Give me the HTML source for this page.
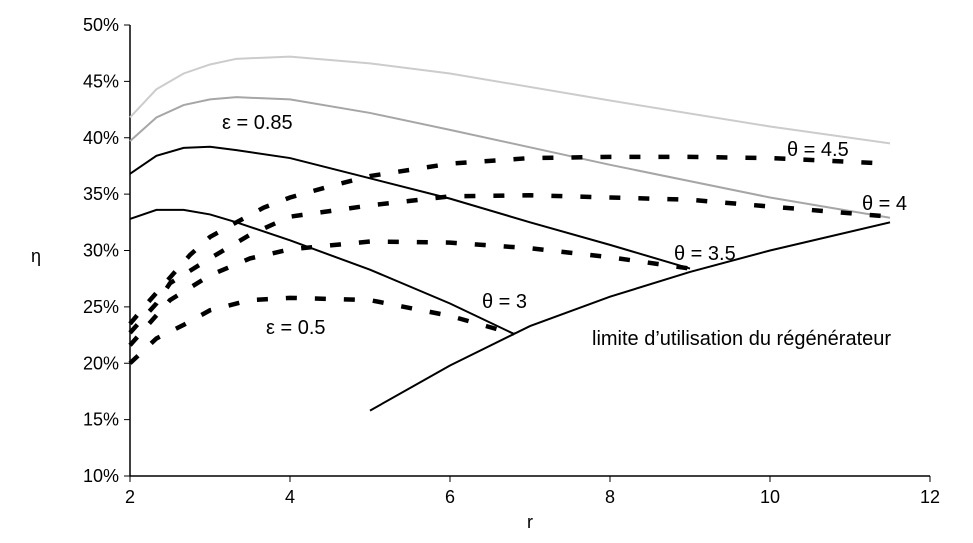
<!DOCTYPE html>
<html><head><meta charset="utf-8"><style>
body{margin:0;background:#fff;}
svg text{font-family:"Liberation Sans",sans-serif;font-size:20px;fill:#000;}
svg text.tk{font-size:18px;}
</style></head><body>
<svg id="c" width="973" height="538"></svg>
<script>
const xTicks=[2,4,6,8,10,12];
const yTicks=[10,15,20,25,30,35,40,45,50];
const rSolid=[2,2.33,2.67,3,3.33,4,5,6,8,10,11.5];
const s45=[41.8,44.3,45.7,46.5,47.0,47.2,46.6,45.7,43.3,41.0,39.5];
const s40=[39.7,41.8,42.9,43.4,43.6,43.4,42.2,40.7,37.6,34.7,32.9];
const r35=[2,2.33,2.67,3,3.33,4,5,6,7,8,9];
const s35=[36.8,38.4,39.1,39.2,38.9,38.2,36.4,34.6,32.5,30.5,28.4];
const r30=[2,2.33,2.67,3,3.33,4,5,6,6.8];
const s30=[32.8,33.6,33.6,33.2,32.5,30.9,28.3,25.3,22.6];
const rLim=[5,6,7,8,9,10,11.5];
const sLim=[15.8,19.8,23.3,25.9,28.1,30.0,32.5];
const rD45=[2,2.25,2.5,2.75,3,3.33,3.67,4,4.5,5,6,7,8,9,10,11.5];
const d45=[23.5,25.6,27.6,29.6,31.2,32.5,33.8,34.7,35.7,36.6,37.7,38.2,38.3,38.3,38.2,37.7];
const rD40=[2,2.33,2.5,3,3.5,4,5,6,7,8,9,10,11.5];
const d40=[22.7,25.3,27.1,29.3,31.4,33.0,34.0,34.8,34.9,34.7,34.5,33.9,33.0];
const rD35=[2,2.5,3,3.5,4,5,6,7,8,9];
const d35=[21.6,25.6,27.8,29.3,30.1,30.8,30.7,30.2,29.4,28.4];
const rD30=[2,2.33,2.67,3,3.5,4,5,6,6.8];
const d30=[20.0,22.2,23.4,24.7,25.6,25.8,25.6,24.2,22.6];

const NS="http://www.w3.org/2000/svg";
const svg=document.getElementById('c');
const X=v=>130+(v-2)*80;
const Y=v=>476-(v-10)*11.275;
function mk(t,a){const e=document.createElementNS(NS,t);for(const k in a)e.setAttribute(k,a[k]);svg.appendChild(e);return e;}
function line(xs,ys,name,stroke,w,dash){
  const p=mk('polyline',{points:xs.map((x,i)=>X(x)+','+Y(ys[i])).join(' '),fill:'none',stroke:stroke,'stroke-width':w});
  if(dash)p.setAttribute('stroke-dasharray',dash);
  
  
}
function txt(x,y,s,name,anchor,cls){const t=mk('text',{x:x,y:y,'text-anchor':anchor||'start'});t.textContent=s;
  if(cls)t.setAttribute('class',cls);
  
  return t;}
const ax=mk('path',{d:`M130 ${Y(50)} V476 H930`,stroke:'#000','stroke-width':1.5,fill:'none'});


yTicks.forEach(v=>{const t=mk('line',{x1:124,x2:130,y1:Y(v),y2:Y(v),stroke:'#000'});
  
  
  txt(119,Y(v)+6,v+'%','y-tick-label','end','tk');});
xTicks.forEach(v=>{const t=mk('line',{x1:X(v),x2:X(v),y1:476,y2:482,stroke:'#000'});
  
  
  txt(X(v),503,v,'x-tick-label','middle','tk');});
txt(530,528,'r','x-axis-title','middle','tk');
txt(36,262,'η','y-axis-title','middle','tk');
line(rSolid,s45,'line-eps085-theta45','#cccccc',2);
line(rSolid,s40,'line-eps085-theta4','#a6a6a6',2);
line(r35,s35,'line-eps085-theta35','#000',2);
line(r30,s30,'line-eps085-theta3','#000',2);
line(rLim,sLim,'line-regenerator-limit','#000',2);
line(rD45,d45,'line-eps05-theta45','#000',4.5,'11 18');
line(rD40,d40,'line-eps05-theta4','#000',4.5,'11 18');
line(rD35,d35,'line-eps05-theta35','#000',4.5,'11 18');
line(rD30,d30,'line-eps05-theta3','#000',4.5,'11 18');
txt(222,129,'ε = 0.85','label-eps085');
txt(266,334,'ε = 0.5','label-eps05');
txt(482,308,'θ = 3','label-theta3');
txt(674,260,'θ = 3.5','label-theta35');
txt(862,210,'θ = 4','label-theta4');
txt(787,156,'θ = 4.5','label-theta45');
txt(592,345,'limite d’utilisation du régénérateur','label-limit');
</script>
</body></html>
